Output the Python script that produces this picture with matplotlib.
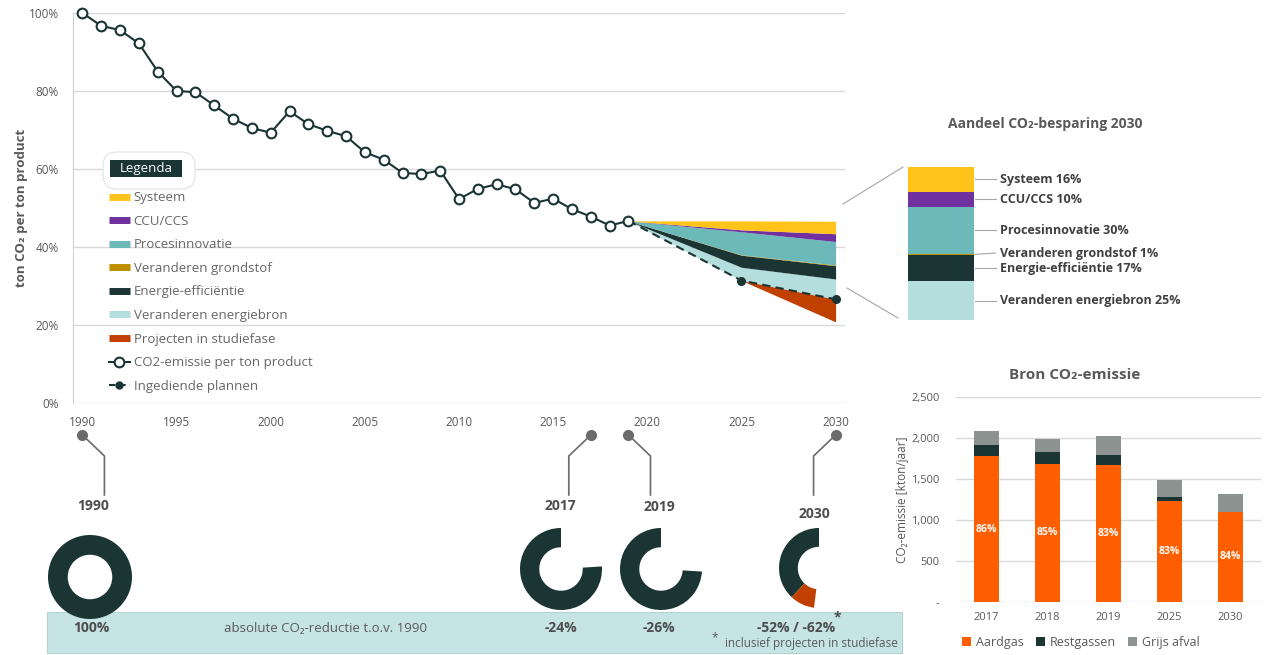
import numpy as np
import matplotlib
matplotlib.use('Agg')
import matplotlib.pyplot as plt
from matplotlib.patches import Wedge, Rectangle, FancyBboxPatch
from matplotlib.lines import Line2D
from matplotlib.ticker import FuncFormatter

plt.rcParams['font.family'] = ['Open Sans', 'DejaVu Sans']

W, H = 1269, 655

# ===== DATA =====
years = list(range(1990, 2020))
emissie = [100, 96.7, 95.6, 92.2, 85.0, 80.0, 79.7, 76.3, 72.9, 70.5,
           69.3, 74.8, 71.5, 69.8, 68.4, 64.3, 62.4, 59.0, 58.7, 59.6,
           52.3, 54.9, 56.1, 54.8, 51.3, 52.4, 49.7, 47.8, 45.5, 46.7]

plan_years = [2019, 2025, 2030]
plannen = [46.7, 31.4, 26.6]
# lagen boven de ingediende plannen (van onder naar boven)
energiebron = [0, 3.4, 5.2]
energie_eff = [0, 3.1, 3.4]
grondstof = [0, 0.1, 0.2]
proces = [0, 5.9, 6.0]
ccu = [0, 0.5, 2.0]
systeem = [0, 2.3, 3.2]
studiefase = [0, 0, 5.8]

aandeel_names = ['Veranderen energiebron', 'Energie-efficiëntie', 'Veranderen grondstof',
                 'Procesinnovatie', 'CCU/CCS', 'Systeem']
aandeel_pct = [25, 17, 1, 30, 10, 16]

donut_years = [1990, 2017, 2019, 2030]
reductie = [0, 24, 26, 52]
reductie_studie = [0, 0, 0, 10]
reductie_labels = ['100%', '-24%', '-26%', '-52% / -62%']

bron_years = ['2017', '2018', '2019', '2025', '2030']
aardgas = [1780, 1683, 1671, 1232, 1101]
restgassen = [138, 142, 122, 48, 0]
grijs_afval = [164, 167, 231, 208, 212]
aardgas_pct = ['86%', '85%', '83%', '83%', '84%']

# ===== KLEUREN =====
DARK = '#1b3434'
GREY = '#595959'
GRID = '#d9d9d9'
C_SYS = '#ffc31a'
C_CCU = '#7030a0'
C_PROC = '#6bb9b9'
C_GROND = '#bf8f00'
C_ENER = DARK
C_BRON = '#b4dddd'
C_STUDIE = '#c04000'
C_AARD = '#ff5f00'
C_GRIJS = '#8c9391'
C_BAND = '#c6e4e4'

fig = plt.figure(figsize=(W / 100, H / 100), dpi=100)

# ===== HOOFDGRAFIEK =====
ax = fig.add_axes([73 / W, (H - 403) / H, 772 / W, 390 / H])
ax.set_xlim(1989.5, 2030.5)
ax.set_ylim(0, 100)

layers = [energiebron, energie_eff, grondstof, proces, ccu, systeem]
layer_cols = [C_BRON, C_ENER, C_GROND, C_PROC, C_CCU, C_SYS]
base = np.array(plannen, dtype=float)
for vals, col in zip(layers, layer_cols):
    top = base + np.array(vals)
    ax.fill_between(plan_years, base, top, color=col, lw=0, zorder=2)
    base = top
ax.fill_between(plan_years, np.array(plannen) - np.array(studiefase), plannen,
                color=C_STUDIE, lw=0, zorder=2)

ax.plot(plan_years, plannen, color=DARK, lw=1.5, ls=(0, (4, 2.5)), zorder=3)
ax.plot(plan_years[1:], plannen[1:], 'o', color=DARK, ms=5.5, zorder=4, clip_on=False)
ax.plot(years, emissie, color=DARK, lw=1.5, marker='o', ms=7, mfc='white',
        mew=1.5, zorder=5, clip_on=False)

ax.set_yticks(range(0, 101, 20))
ax.yaxis.set_major_formatter(FuncFormatter(lambda v, p: f'{int(v)}%'))
ax.set_xticks(range(1990, 2031, 5))
ax.tick_params(length=0, labelsize=8.5, labelcolor=GREY)
ax.tick_params(axis='x', pad=9)
ax.tick_params(axis='y', pad=10)
ax.grid(axis='y', color=GRID, lw=1)
ax.set_axisbelow(True)
for s in ['top', 'right', 'bottom']:
    ax.spines[s].set_visible(False)
ax.spines['left'].set_color('#cfcfcf')
ax.set_ylabel('ton CO₂ per ton product', fontsize=9.5, fontweight='bold', color=GREY)
ax.yaxis.set_label_coords(-0.058, 0.5)

handles = [Line2D([], [], color=c, lw=5, solid_capstyle='butt')
           for c in [C_SYS, C_CCU, C_PROC, C_GROND, C_ENER, C_BRON, C_STUDIE]]
handles.append(Line2D([], [], color=DARK, lw=1.5, marker='o', ms=7, mfc='white', mew=1.5))
handles.append(Line2D([], [], color=DARK, lw=1.5, ls=(0, (3, 2)), marker='o', ms=5))
labels = ['Systeem', 'CCU/CCS', 'Procesinnovatie', 'Veranderen grondstof', 'Energie-efficiëntie',
          'Veranderen energiebron', 'Projecten in studiefase', 'CO2-emissie per ton product',
          'Ingediende plannen']
leg = ax.legend(handles, labels, loc='upper left', bbox_to_anchor=(0.046, 0.543),
                frameon=False, fontsize=9.5, handlelength=1.65, handletextpad=0.25,
                labelspacing=0.8, borderpad=0, borderaxespad=0, labelcolor='#666666')

# ===== OVERLAY (pixels) =====
ov = fig.add_axes([0, 0, 1, 1])
ov.set_xlim(0, W)
ov.set_ylim(0, H)
ov.axis('off')
ov.patch.set_alpha(0)

def py(y):
    return H - y

# Legenda kop
ov.add_patch(FancyBboxPatch((103, py(189)), 92, 37, boxstyle='round,pad=0,rounding_size=14',
                            facecolor='white', edgecolor='#e2e2e2', lw=0.8))
ov.add_patch(Rectangle((110, py(177)), 72, 17, facecolor=DARK, lw=0))
ov.text(146, py(168.5), 'Legenda', color='white', fontsize=9.5, ha='center', va='center')

# zoomlijnen naar aandeel-balk
ov.plot([843, 903], [py(204), py(167)], color='#a6a6a6', lw=0.8)
ov.plot([847, 898], [py(288), py(318)], color='#a6a6a6', lw=0.8)

# band onderaan
ov.add_patch(Rectangle((47, py(653)), 855, 41, facecolor=C_BAND, edgecolor='#b3d3d3', lw=0.8))
ov.text(326, py(628), 'absolute CO₂-reductie t.o.v. 1990', color=GREY, fontsize=9.5,
        ha='center', va='center')
ov.text(898, py(643), 'inclusief projecten in studiefase', color=GREY, fontsize=8.5,
        ha='right', va='center')
ov.text(718, py(638), '*', color=GREY, fontsize=8.5, ha='right', va='center')

# pins + donuts
pin_dir = [1, -1, 1, -1]
label_x = [93, 560, 659, 814]
label_y = [506, 506, 507, 514]
donut_x = [90, 561, 661, 819]
donut_y = [577, 569, 569, 568]
donut_r = [42, 41, 41, 40]
band_x = [91, 561, 659, 796]
for i, yr in enumerate(donut_years):
    xd = ax.transData.transform((yr, 0))[0]
    xe = xd + pin_dir[i] * 22
    ov.plot([xd, xe, xe], [py(435), py(456), py(495)], color='#6b6b6b', lw=1.2,
            solid_joinstyle='miter')
    ov.plot([xd], [py(435)], 'o', color='#6b6b6b', ms=7)
    ov.text(label_x[i], py(label_y[i]), str(yr), color='#4d4d4d', fontsize=10,
            fontweight='bold', ha='center', va='center')
    r = donut_r[i]
    rest = 100 - reductie[i] - reductie_studie[i]
    t_end = 90 + 360 * rest / 100
    ov.add_patch(Wedge((donut_x[i], py(donut_y[i])), r, 90, t_end, width=r * 0.47,
                       facecolor=DARK, lw=0))
    if reductie_studie[i] > 0:
        ov.add_patch(Wedge((donut_x[i], py(donut_y[i])), r, t_end,
                           t_end + 360 * reductie_studie[i] / 100, width=r * 0.47,
                           facecolor=C_STUDIE, lw=0))
    ov.text(band_x[i], py(628), reductie_labels[i], color='#4d4d4d', fontsize=10,
            fontweight='bold', ha='center', va='center')
ov.text(834, py(617), '*', color='#4d4d4d', fontsize=10, fontweight='bold', ha='left', va='center')

# ===== AANDEEL CO2-BESPARING 2030 =====
sb = fig.add_axes([908 / W, (H - 320) / H, 66 / W, 153 / H])
sb.set_xlim(-0.5, 0.5)
sb.set_ylim(0, sum(aandeel_pct))
sb.axis('off')
aandeel_cols = [C_BRON, C_ENER, C_GROND, C_PROC, C_CCU, C_SYS]
bottom = 0
for name, pct, col in zip(aandeel_names, aandeel_pct, aandeel_cols):
    sb.bar(0, pct, width=1, bottom=bottom, color=col, lw=0)
    yc = bottom + pct / 2
    if name == 'Veranderen grondstof':
        yc += 0.8
    sb.plot([0.52, 0.83], [bottom + pct / 2, yc], color='#a6a6a6', lw=0.8, clip_on=False)
    sb.text(0.89, yc, f'{name} {pct}%', color='#404040', fontsize=9, fontweight='bold',
            va='center', ha='left', clip_on=False)
    bottom += pct
ov.text(1045, py(124), 'Aandeel CO₂-besparing 2030', color=GREY, fontsize=10,
        fontweight='bold', ha='center', va='center')

# ===== BRON CO2-EMISSIE =====
bx = fig.add_axes([956 / W, (H - 602) / H, 305 / W, 205 / H])
xs = np.arange(len(bron_years))
bx.bar(xs, aardgas, width=0.4, color=C_AARD, label='Aardgas', zorder=2)
bx.bar(xs, restgassen, width=0.4, bottom=aardgas, color=DARK, label='Restgassen', zorder=2)
bx.bar(xs, grijs_afval, width=0.4, bottom=np.array(aardgas) + np.array(restgassen),
       color=C_GRIJS, label='Grijs afval', zorder=2)
for x, a, p in zip(xs, aardgas, aardgas_pct):
    bx.text(x, a / 2, p, color='white', fontsize=7.5, fontweight='bold', ha='center', va='center')
bx.set_xlim(-0.5, 4.5)
bx.set_ylim(0, 2500)
bx.set_xticks(xs)
bx.set_xticklabels(bron_years)
bx.set_yticks(range(0, 2501, 500))
bx.yaxis.set_major_formatter(FuncFormatter(lambda v, p: '-' if v == 0 else f'{int(v):,}'))
bx.tick_params(length=0, labelsize=8, labelcolor=GREY)
bx.tick_params(axis='y', pad=12)
bx.tick_params(axis='x', pad=7)
bx.grid(axis='y', color=GRID, lw=1, zorder=0)
for s in bx.spines.values():
    s.set_visible(False)
bx.set_ylabel('CO₂-emissie [kton/jaar]', fontsize=8.5, color=GREY)
bx.yaxis.set_label_coords(-0.155, 0.5)
bx.legend(loc='upper center', bbox_to_anchor=(0.41, -0.11), ncol=3, frameon=False,
          fontsize=9, handlelength=0.7, handleheight=0.7, handletextpad=0.4,
          columnspacing=1.0, labelcolor=GREY)
ov.text(1075, py(375), 'Bron CO₂-emissie', color=GREY, fontsize=11, fontweight='bold',
        ha='center', va='center')

fig.savefig('out.png', dpi=100)
